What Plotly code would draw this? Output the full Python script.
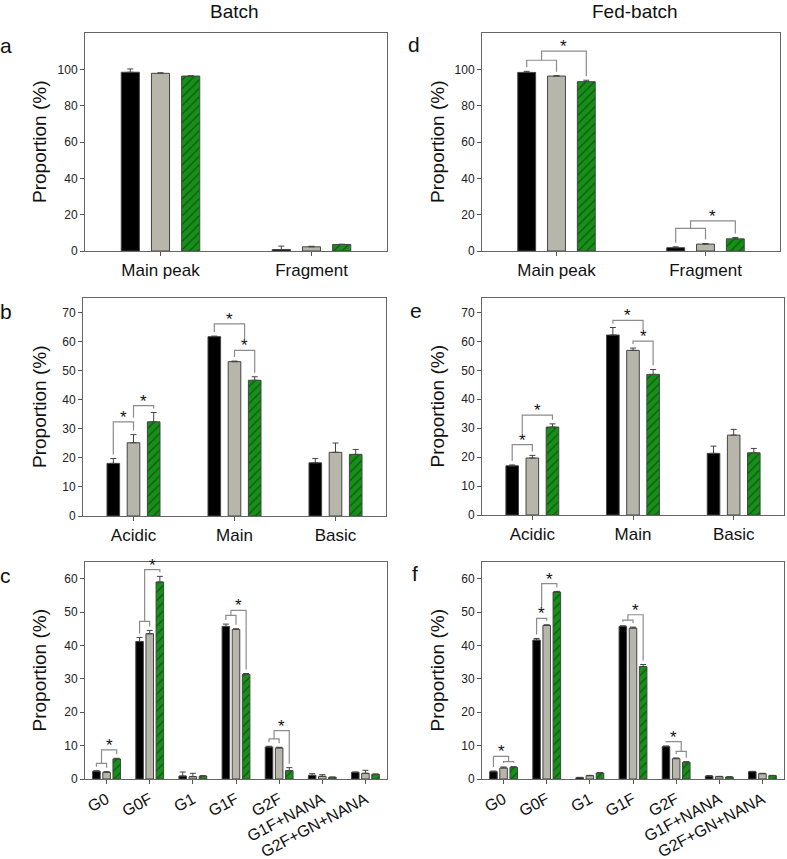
import plotly.graph_objects as go
from plotly.subplots import make_subplots

# categories
sec_cats = ["Main peak", "Fragment"]
charge_cats = ["Acidic", "Main", "Basic"]
glycan_cats = ["G0", "G0F", "G1", "G1F", "G2F", "G1F+NANA", "G2F+GN+NANA"]

# series order: black, gray, green (hatched)
batch_sec = [[98.4, 0.8], [97.8, 2.3], [96.3, 3.6]]
batch_sec_err = [[1.8, 1.9], [0.3, 0.3], [0.1, 0.1]]
fed_sec = [[98.3, 1.8], [96.3, 3.8], [93.2, 6.7]]
fed_sec_err = [[0.6, 0.5], [0.2, 0.3], [0.8, 0.7]]

batch_charge = [[18.1, 61.7, 18.3], [25.2, 53.1, 21.9], [32.4, 46.7, 21.2]]
batch_charge_err = [[1.7, 0.2, 1.5], [2.8, 0.2, 3.2], [3.2, 1.2, 1.7]]
fed_charge = [[17.0, 62.2, 21.3], [19.7, 56.9, 27.6], [30.4, 48.6, 21.5]]
fed_charge_err = [[0.3, 2.6, 2.5], [0.9, 0.8, 2.0], [1.1, 1.7, 1.5]]

batch_glycan = [[2.3, 41.2, 0.9, 45.7, 9.6, 1.1, 2.0],
                [2.0, 43.5, 0.7, 44.8, 9.3, 0.8, 1.7],
                [6.0, 59.0, 0.9, 31.3, 2.5, 0.5, 1.4]]
batch_glycan_err = [[0.2, 1.2, 1.2, 0.7, 0.2, 0.5, 0.1],
                    [0.2, 1.0, 1.0, 0.2, 0.2, 0.5, 0.9],
                    [0.2, 1.7, 0.1, 0.3, 0.9, 0.1, 0.1]]
fed_glycan = [[2.2, 41.6, 0.4, 45.7, 9.7, 0.9, 2.2],
              [3.3, 46.0, 1.0, 45.2, 6.1, 0.7, 1.6],
              [3.5, 56.0, 1.8, 33.7, 5.0, 0.6, 1.0]]
fed_glycan_err = [[0.2, 0.5, 0.1, 0.2, 0.2, 0.1, 0.1],
                  [0.3, 0.2, 0.1, 0.3, 0.2, 0.1, 0.1],
                  [0.2, 0.2, 0.1, 0.6, 0.2, 0.1, 0.1]]

# significance brackets: (category, left series, right series, level, star)
# a fractional series index means the middle of a lower bracket
d_brackets = [(0, 0, 1, 105, False), (0, 0.5, 2, 110, True),
              (1, 0, 1, 12.4, False), (1, 0.5, 2, 16.6, True)]
b_brackets = [(0, 0, 1, 32.4, True), (0, 1, 2, 38.0, True),
              (1, 1, 2, 57.0, True), (1, 0, 1.5, 66.1, True)]
e_brackets = [(0, 0, 1, 24.3, True), (0, 0.5, 2, 34.5, True),
              (1, 1, 2, 60.1, True), (1, 0, 1.5, 67.3, True)]
c_brackets = [(0, 0, 1, 4.7, False), (0, 0.5, 2, 8.7, True),
              (1, 0, 1, 47.2, False), (1, 0.5, 2, 62.7, True),
              (3, 0, 1, 49.0, False), (3, 0.5, 2, 50.5, True),
              (4, 0, 1, 12.0, False), (4, 0.5, 2, 14.5, True)]
f_brackets = [(0, 1, 2, 5.2, False), (0, 0, 1.5, 6.8, True),
              (1, 0, 1, 48.1, True), (1, 0.5, 2, 58.5, True),
              (3, 0, 1, 47.6, False), (3, 0.5, 2, 49.2, True),
              (4, 1, 2, 8.3, False), (4, 0, 1.5, 11.2, True)]

FONT = "Liberation Sans, Arial, sans-serif"
FILLS = ["#000000", "#b6b6ab", "#17901a"]
W, H = 787, 859

panels = [
    # row, col, cats, means, errs, brackets, yrange, last tick, dtick, slot, barw, xdom(px), ydom(px)
    (1, 1, sec_cats, batch_sec, batch_sec_err, [], 120, 100, 20, 0.2, 0.12, (85, 387), (33, 251)),
    (1, 2, sec_cats, fed_sec, fed_sec_err, d_brackets, 120, 100, 20, 0.2, 0.12, (482, 780), (33, 251)),
    (2, 1, charge_cats, batch_charge, batch_charge_err, b_brackets, 75, 70, 10, 0.2, 0.125, (83, 386), (298, 516)),
    (2, 2, charge_cats, fed_charge, fed_charge_err, e_brackets, 75, 70, 10, 0.2, 0.125, (482, 784), (298, 515)),
    (3, 1, glycan_cats, batch_glycan, batch_glycan_err, c_brackets, 65, 60, 10, 0.235, 0.175, (85, 387), (562, 779)),
    (3, 2, glycan_cats, fed_glycan, fed_glycan_err, f_brackets, 65, 60, 10, 0.235, 0.175, (482, 784), (562, 779)),
]

fig = make_subplots(rows=3, cols=2)

for k, (row, col, cats, means, errs, brackets, ymax, ylast, dtick, slot, barw, xd, yd) in enumerate(panels):
    idx = list(range(len(cats)))
    for s in range(3):
        fig.add_trace(go.Bar(
            x=idx, y=means[s],
            offset=(s - 1) * slot - barw / 2, width=barw,
            marker=dict(
                color=FILLS[s],
                line=dict(color="#444444", width=1),
                pattern=dict(shape="/" if s == 2 else "", fgcolor="#062006",
                             size=6, solidity=0.22),
            ),
            error_y=dict(type="data", symmetric=False, array=errs[s],
                         arrayminus=[0] * len(cats), color="#444444",
                         thickness=1, width=3),
            showlegend=False, hoverinfo="skip",
        ), row=row, col=col)

    # brackets
    unit = ymax / (yd[1] - yd[0])  # data units per pixel
    pad = 4 * unit
    star_pad = 11 * unit
    bx, by = [], []

    def leg_bottom(c, s, level):
        bottom = 0
        if float(s).is_integer():
            si = int(s)
            bottom = means[si][c] + errs[si][c] + pad
        for (c2, l2, r2, y2, st2) in brackets:
            if c2 != c or y2 >= level:
                continue
            if abs((l2 + r2) / 2 - s) < 1e-9:
                bottom = max(bottom, y2 + (star_pad if st2 else 0))
            elif l2 <= s <= r2:
                bottom = max(bottom, y2 + pad)
        return bottom

    for (c, l, r, y, star) in brackets:
        xl = c + (l - 1) * slot
        xr = c + (r - 1) * slot
        bx += [xl, xl, xr, xr, None]
        by += [leg_bottom(c, l, y), y, y, leg_bottom(c, r, y), None]
        if star:
            axn = "" if k == 0 else str(k + 1)
            fig.add_annotation(x=(xl + xr) / 2, y=y, xref="x" + axn, yref="y" + axn,
                               text="*", showarrow=False, xanchor="center",
                               yanchor="bottom", yshift=-7,
                               font=dict(family=FONT, size=17, color="#111111"))
    if bx:
        fig.add_trace(go.Scatter(x=bx, y=by, mode="lines",
                                 line=dict(color="#8c8c8c", width=1.2),
                                 showlegend=False, hoverinfo="skip"), row=row, col=col)

    glycan = len(cats) > 3
    fig.update_xaxes(
        domain=[xd[0] / W, xd[1] / W], range=[-0.5, len(cats) - 0.5],
        tickvals=idx, ticktext=cats, tickangle=-28 if glycan else 0,
        tickfont=dict(family=FONT, size=16 if glycan else 17, color="#111111"),
        ticks="outside", ticklen=4, tickcolor="#555555", automargin=False,
        showline=True, linecolor="#666666", linewidth=1, mirror=True,
        showgrid=False, zeroline=False, row=row, col=col)
    fig.update_yaxes(
        domain=[1 - yd[1] / H, 1 - yd[0] / H], range=[0, ymax],
        tickvals=list(range(0, ylast + 1, dtick)),
        tickfont=dict(family=FONT, size=12, color="#222222"),
        ticks="outside", ticklen=4, tickcolor="#555555", automargin=False,
        showline=True, linecolor="#666666", linewidth=1, mirror=True,
        showgrid=False, zeroline=False, row=row, col=col)

    # y title
    fig.add_annotation(x=(39 if col == 1 else 437) / W, y=1 - (yd[0] + yd[1]) / 2 / H,
                       xref="paper", yref="paper", text="Proportion (%)",
                       textangle=-90, showarrow=False, xanchor="center", yanchor="middle",
                       font=dict(family=FONT, size=19, color="#111111"))

letters = [("a", 6, 46), ("d", 414, 45), ("b", 6, 311), ("e", 416, 310), ("c", 5, 575), ("f", 415, 573)]
for txt, px, py in letters:
    fig.add_annotation(x=px / W, y=1 - py / H, xref="paper", yref="paper", text=txt,
                       showarrow=False, xanchor="center", yanchor="middle",
                       font=dict(family=FONT, size=21, color="#111111"))

for txt, px in [("Batch", 235), ("Fed-batch", 635)]:
    fig.add_annotation(x=px / W, y=1 - 11 / H, xref="paper", yref="paper", text=txt,
                       showarrow=False, xanchor="center", yanchor="middle",
                       font=dict(family=FONT, size=19, color="#111111"))

fig.update_layout(
    width=W, height=H, barmode="overlay",
    margin=dict(l=0, r=0, t=0, b=0),
    paper_bgcolor="white", plot_bgcolor="white",
    font=dict(family=FONT),
)

# page default body margin would shift the figure by 8px
fig.write_html("out.html", config={"displayModeBar": False},
               post_script="document.body.style.margin='0px';")
